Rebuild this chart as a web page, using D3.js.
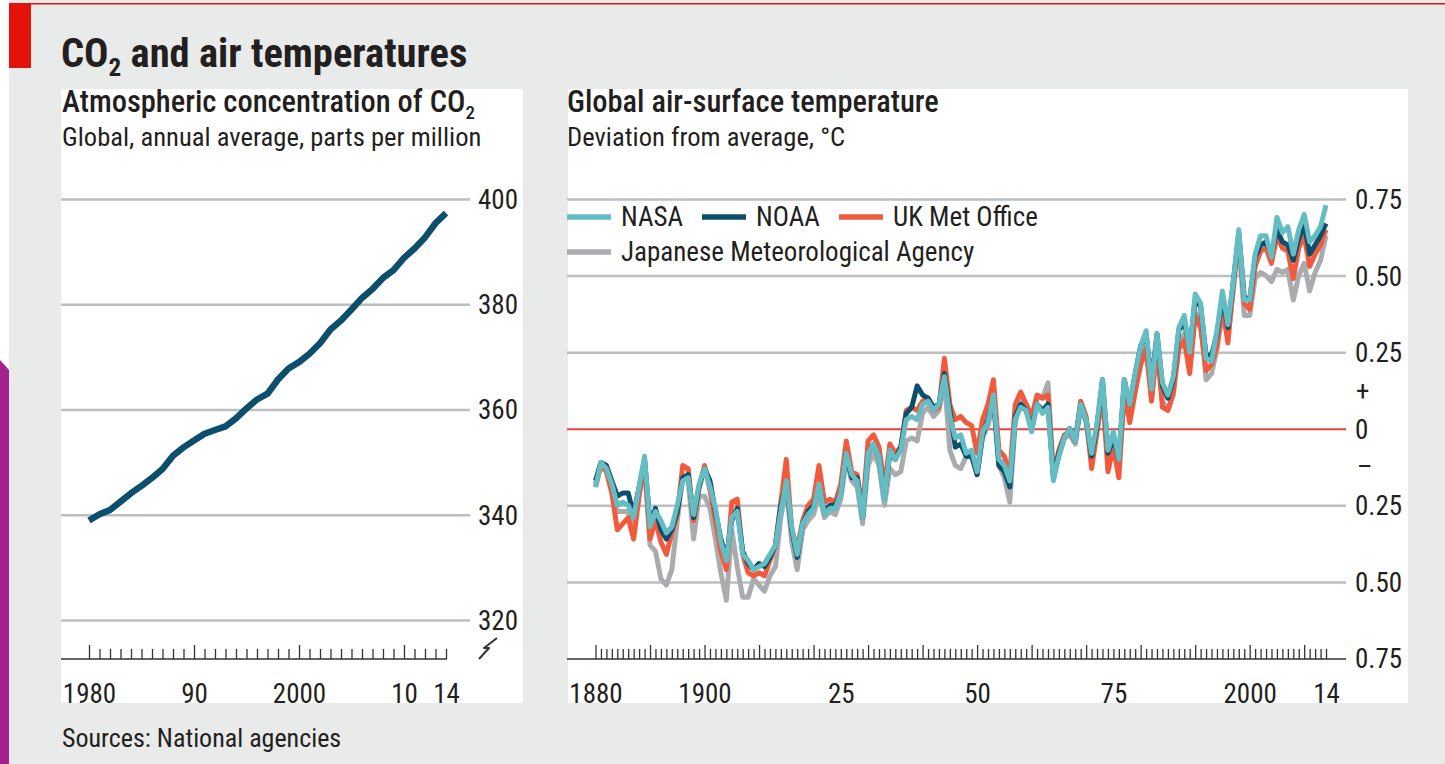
<!DOCTYPE html>
<html>
<head>
<meta charset="utf-8">
<script src="https://cdn.jsdelivr.net/npm/d3@7"></script>
<style>
  body { margin: 0; background: #e9eaea; }
  svg text { font-family: "Roboto Condensed", "DejaVu Sans Condensed", sans-serif; fill: #231f20; }
</style>
</head>
<body>
<svg id="chart" width="1445" height="764"></svg>
<script>
// ---- data ----
var co2Years = d3.range(1980, 2015);
var co2Values = [338.9, 340.1, 340.9, 342.5, 344.1, 345.5, 347.0, 348.7, 351.2, 352.8,
                 354.1, 355.4, 356.1, 356.8, 358.3, 360.2, 361.9, 363.0, 365.7, 367.8,
                 369.0, 370.6, 372.6, 375.2, 376.9, 379.0, 381.2, 382.9, 385.0, 386.5,
                 388.8, 390.6, 392.7, 395.4, 397.3];
var co2Ticks = [320, 340, 360, 380, 400];
var co2XLabels = [[1980, "1980"], [1990, "90"], [2000, "2000"], [2010, "10"], [2014, "14"]];

var tempYears = d3.range(1880, 2015);
var nasa = [-0.19, -0.11, -0.13, -0.18, -0.25, -0.24, -0.25, -0.29, -0.19, -0.09,
            -0.32, -0.27, -0.30, -0.34, -0.32, -0.25, -0.17, -0.16, -0.28, -0.18,
            -0.13, -0.19, -0.26, -0.37, -0.43, -0.29, -0.27, -0.41, -0.43, -0.46,
            -0.45, -0.44, -0.41, -0.38, -0.27, -0.17, -0.32, -0.41, -0.31, -0.28,
            -0.26, -0.18, -0.28, -0.26, -0.26, -0.21, -0.08, -0.15, -0.17, -0.29,
            -0.08, -0.05, -0.09, -0.23, -0.07, -0.10, -0.07, 0.03, 0.04, 0.03,
            0.08, 0.09, 0.06, 0.08, 0.17, 0.04, -0.03, -0.02, -0.08, -0.07,
            -0.14, -0.01, 0.02, 0.11, -0.10, -0.12, -0.17, 0.03, 0.07, 0.06,
            -0.01, 0.08, 0.05, 0.07, -0.17, -0.09, -0.03, 0.00, -0.04, 0.08,
            0.03, -0.08, 0.02, 0.16, -0.07, -0.01, -0.10, 0.16, 0.08, 0.18,
            0.27, 0.32, 0.13, 0.31, 0.15, 0.11, 0.17, 0.33, 0.37, 0.25,
            0.44, 0.41, 0.23, 0.22, 0.32, 0.45, 0.34, 0.48, 0.65, 0.42,
            0.42, 0.57, 0.63, 0.63, 0.56, 0.69, 0.64, 0.66, 0.57, 0.65,
            0.70, 0.61, 0.63, 0.66, 0.73];
var noaa = [-0.17, -0.11, -0.12, -0.17, -0.22, -0.21, -0.21, -0.28, -0.19, -0.10,
            -0.31, -0.26, -0.33, -0.36, -0.33, -0.27, -0.16, -0.15, -0.29, -0.19,
            -0.13, -0.17, -0.27, -0.36, -0.42, -0.30, -0.26, -0.40, -0.44, -0.46,
            -0.44, -0.45, -0.42, -0.38, -0.25, -0.18, -0.33, -0.42, -0.31, -0.27,
            -0.25, -0.19, -0.27, -0.25, -0.25, -0.21, -0.08, -0.16, -0.16, -0.29,
            -0.08, -0.05, -0.09, -0.22, -0.08, -0.10, -0.06, 0.05, 0.07, 0.14,
            0.11, 0.10, 0.07, 0.08, 0.18, 0.06, -0.06, -0.05, -0.09, -0.09,
            -0.15, -0.02, 0.03, 0.10, -0.12, -0.14, -0.19, 0.04, 0.08, 0.06,
            0.00, 0.08, 0.06, 0.08, -0.16, -0.08, -0.03, 0.00, -0.04, 0.08,
            0.03, -0.09, 0.01, 0.16, -0.08, -0.03, -0.10, 0.16, 0.08, 0.18,
            0.27, 0.31, 0.15, 0.31, 0.14, 0.10, 0.16, 0.32, 0.35, 0.26,
            0.42, 0.40, 0.24, 0.24, 0.31, 0.43, 0.33, 0.48, 0.64, 0.43,
            0.42, 0.56, 0.60, 0.61, 0.57, 0.65, 0.61, 0.60, 0.55, 0.62,
            0.67, 0.57, 0.60, 0.63, 0.67];
var ukMet = [-0.19, -0.12, -0.14, -0.21, -0.33, -0.31, -0.29, -0.36, -0.22, -0.11,
             -0.36, -0.30, -0.37, -0.41, -0.34, -0.28, -0.12, -0.13, -0.30, -0.19,
             -0.12, -0.20, -0.30, -0.40, -0.46, -0.24, -0.23, -0.41, -0.47, -0.48,
             -0.47, -0.48, -0.43, -0.38, -0.24, -0.10, -0.33, -0.39, -0.30, -0.25,
             -0.23, -0.12, -0.24, -0.23, -0.24, -0.18, -0.04, -0.14, -0.15, -0.27,
             -0.04, -0.02, -0.06, -0.19, -0.05, -0.08, -0.06, 0.06, 0.07, 0.06,
             0.09, 0.10, 0.06, 0.07, 0.23, 0.08, 0.03, 0.04, 0.02, 0.01,
             -0.08, 0.03, 0.08, 0.16, -0.07, -0.09, -0.15, 0.08, 0.12, 0.08,
             0.04, 0.11, 0.10, 0.11, -0.15, -0.07, -0.02, -0.01, -0.04, 0.09,
             0.04, -0.13, -0.01, 0.12, -0.14, -0.06, -0.16, 0.12, 0.02, 0.12,
             0.21, 0.26, 0.09, 0.27, 0.07, 0.06, 0.12, 0.26, 0.29, 0.18,
             0.37, 0.33, 0.19, 0.21, 0.27, 0.40, 0.28, 0.47, 0.63, 0.41,
             0.39, 0.53, 0.58, 0.59, 0.54, 0.63, 0.59, 0.58, 0.49, 0.59,
             0.63, 0.53, 0.57, 0.60, 0.65];
var jma = [-0.18, -0.11, -0.13, -0.19, -0.27, -0.27, -0.27, -0.33, -0.21, -0.12,
           -0.38, -0.40, -0.49, -0.51, -0.46, -0.30, -0.16, -0.17, -0.36, -0.22,
           -0.22, -0.26, -0.36, -0.47, -0.56, -0.33, -0.45, -0.55, -0.55, -0.49,
           -0.51, -0.53, -0.48, -0.45, -0.29, -0.19, -0.37, -0.46, -0.33, -0.30,
           -0.28, -0.21, -0.29, -0.27, -0.28, -0.23, -0.10, -0.17, -0.19, -0.31,
           -0.12, -0.08, -0.12, -0.25, -0.13, -0.15, -0.14, -0.04, -0.03, -0.04,
           0.05, 0.07, 0.04, 0.06, 0.16, -0.07, -0.12, -0.13, -0.09, -0.08,
           -0.15, -0.03, 0.01, 0.09, -0.12, -0.16, -0.24, 0.02, 0.09, 0.08,
           0.03, 0.10, 0.10, 0.15, -0.15, -0.09, -0.03, -0.02, -0.05, 0.07,
           0.02, -0.10, 0.00, 0.14, -0.09, -0.04, -0.12, 0.13, 0.05, 0.13,
           0.21, 0.27, 0.10, 0.27, 0.09, 0.06, 0.11, 0.28, 0.31, 0.20,
           0.38, 0.36, 0.16, 0.18, 0.26, 0.38, 0.30, 0.45, 0.62, 0.37,
           0.37, 0.49, 0.51, 0.50, 0.48, 0.52, 0.51, 0.52, 0.42, 0.50,
           0.54, 0.45, 0.51, 0.55, 0.63];
var tempTicks = [-0.75, -0.5, -0.25, 0, 0.25, 0.5, 0.75];
var tempXLabels = [[1880, "1880"], [1900, "1900"], [1925, "25"], [1950, "50"], [1975, "75"], [2000, "2000"], [2014, "14"]];

var series = [
  {name: "Japanese Meteorological Agency", values: jma,   color: "#a9abae"},
  {name: "UK Met Office",                  values: ukMet, color: "#f15a3c"},
  {name: "NOAA",                           values: noaa,  color: "#0c4f6c"},
  {name: "NASA",                           values: nasa,  color: "#64bdc2"}
];
var legendRows = [
  [{name: "NASA", x: 567}, {name: "NOAA", x: 702}, {name: "UK Met Office", x: 839}],
  [{name: "Japanese Meteorological Agency", x: 567}]
];

var svg = d3.select("#chart");
var ink = "#231f20", grid = "#bcbec0", axisInk = "#333333";

// ---- frame ----
svg.append("rect").attr("x", 0).attr("y", 0).attr("width", 9).attr("height", 764).attr("fill", "#ffffff");
svg.append("rect").attr("x", 9).attr("y", 0).attr("width", 1436).attr("height", 764).attr("fill", "#e9eaea");
svg.append("path").attr("d", "M0,360 L9,370 L9,764 L0,764 Z").attr("fill", "#a3208f");
svg.append("rect").attr("x", 9).attr("y", 3).attr("width", 1436).attr("height", 1.5).attr("fill", "#e3120b");
svg.append("rect").attr("x", 9).attr("y", 3).attr("width", 22).attr("height", 65).attr("fill", "#e3120b");
svg.append("rect").attr("x", 61).attr("y", 89).attr("width", 462).attr("height", 614).attr("fill", "#ffffff");
svg.append("rect").attr("x", 568).attr("y", 89).attr("width", 840).attr("height", 614).attr("fill", "#ffffff");

// ---- titles ----
function co2Text(x, y, size, weight, rest, before) {
  var t = svg.append("text").attr("x", x).attr("y", y)
    .style("font-size", size + "px").style("font-weight", weight);
  t.append("tspan").text(before || "CO");
  t.append("tspan").attr("dy", size * 0.22).style("font-size", (size * 0.62) + "px").text("2");
  if (rest) t.append("tspan").attr("dy", -size * 0.22).text(rest);
  return t;
}
co2Text(61, 67, 40.5, 700, " and air temperatures");
co2Text(62, 112, 30.5, 500, null, "Atmospheric concentration of CO");
svg.append("text").attr("x", 62).attr("y", 146).style("font-size", "26.6px").text("Global, annual average, parts per million");
svg.append("text").attr("x", 567).attr("y", 112).style("font-size", "30.5px").style("font-weight", 500).text("Global air-surface temperature");
svg.append("text").attr("x", 567).attr("y", 146).style("font-size", "26.6px").text("Deviation from average, °C");
svg.append("text").attr("x", 62).attr("y", 747).style("font-size", "26px").text("Sources: National agencies");

// ================= left chart: CO2 =================
var xL = d3.scaleLinear().domain([1980, 2014]).range([89, 446]);
var yL = d3.scaleLinear().domain([320, 400]).range([620, 199]);
var baseY = 659;

var gridL = svg.append("g").attr("transform", "translate(61,0)")
  .call(d3.axisRight(yL).tickValues(co2Ticks).tickSize(409).tickPadding(8).tickFormat(d3.format("d")));
gridL.select(".domain").remove();
gridL.selectAll(".tick line").attr("stroke", grid).attr("stroke-width", 2.5);
gridL.selectAll(".tick text").attr("fill", ink).style("font-size", "27px").attr("dy", "0.35em");

// baseline and ticks
svg.append("line").attr("x1", 61).attr("x2", 447).attr("y1", baseY).attr("y2", baseY)
  .attr("stroke", axisInk).attr("stroke-width", 1.5);
function yearTicks(x, years, major) {
  var minor = years.filter(function(d) { return major.indexOf(d) < 0; });
  [[minor, 10], [major, 14]].forEach(function(p) {
    var g = svg.append("g").attr("transform", "translate(0," + baseY + ")")
      .call(d3.axisTop(x).tickValues(p[0]).tickSize(p[1]).tickFormat(""));
    g.select(".domain").remove();
    g.selectAll(".tick line").attr("stroke", axisInk).attr("stroke-width", 1.3);
  });
}
yearTicks(xL, co2Years, [1980, 1990, 2000, 2010]);

function yearLabels(x, labels) {
  var g = svg.append("g").attr("transform", "translate(0,684)")
    .call(d3.axisBottom(x).tickValues(labels.map(function(d) { return d[0]; }))
      .tickSize(0).tickPadding(0)
      .tickFormat(function(d) { return labels.find(function(l) { return l[0] === d; })[1]; }));
  g.select(".domain").remove();
  g.selectAll(".tick text").attr("fill", ink).style("font-size", "27px").attr("dy", "0.71em");
}
yearLabels(xL, co2XLabels);

// axis break mark
svg.append("path").attr("d", "M479,659 L489,648 L484,648 L497,638")
  .attr("fill", "none").attr("stroke", axisInk).attr("stroke-width", 2)
  .attr("stroke-linejoin", "round");

var co2Line = d3.line()
  .x(function(d, i) { return xL(co2Years[i]); })
  .y(function(d) { return yL(d); });
svg.append("path").datum(co2Values).attr("d", co2Line)
  .attr("fill", "none").attr("stroke", "#0c4f6c").attr("stroke-width", 6.5)
  .attr("stroke-linejoin", "round");

// ================= right chart: temperatures =================
var xR = d3.scaleLinear().domain([1880, 2014]).range([595.5, 1326]);
var yR = d3.scaleLinear().domain([-0.75, 0.75]).range([658.5, 199]);

var gridR = svg.append("g").attr("transform", "translate(567,0)")
  .call(d3.axisRight(yR).tickValues(tempTicks).tickSize(779).tickPadding(9)
    .tickFormat(function(d) { return d === 0 ? "0" : d3.format(".2f")(Math.abs(d)); }));
gridR.select(".domain").remove();
gridR.selectAll(".tick line")
  .attr("stroke", function(d) { return d === 0 ? "#e8403a" : (d === -0.75 ? axisInk : grid); })
  .attr("stroke-width", function(d) { return d === 0 ? 2 : (d === -0.75 ? 1.5 : 2.5); });
gridR.selectAll(".tick text").attr("fill", ink).style("font-size", "27px").attr("dy", "0.35em");

svg.append("text").attr("x", 1356).attr("y", yR(0.125)).attr("dy", "0.35em").style("font-size", "27px").text("+");
svg.append("text").attr("x", 1357).attr("y", yR(-0.125)).attr("dy", "0.35em").style("font-size", "27px").text("\u2013");

yearTicks(xR, tempYears, d3.range(1880, 2015, 10));
yearLabels(xR, tempXLabels);

var tempLine = d3.line()
  .x(function(d, i) { return xR(tempYears[i]); })
  .y(function(d) { return yR(d); });
series.forEach(function(s) {
  svg.append("path").datum(s.values).attr("d", tempLine)
    .attr("fill", "none").attr("stroke", s.color).attr("stroke-width", 5)
    .attr("stroke-linejoin", "round");
});

// legend
var colorOf = {};
series.forEach(function(s) { colorOf[s.name] = s.color; });
legendRows.forEach(function(row, r) {
  var ly = 217 + r * 35;
  row.forEach(function(item) {
    svg.append("line").attr("x1", item.x).attr("x2", item.x + 44).attr("y1", ly).attr("y2", ly)
      .attr("stroke", colorOf[item.name]).attr("stroke-width", 5.5);
    svg.append("text").attr("x", item.x + 54).attr("y", ly).attr("dy", "0.35em")
      .style("font-size", "27px").text(item.name);
  });
});
</script>
</body>
</html>
